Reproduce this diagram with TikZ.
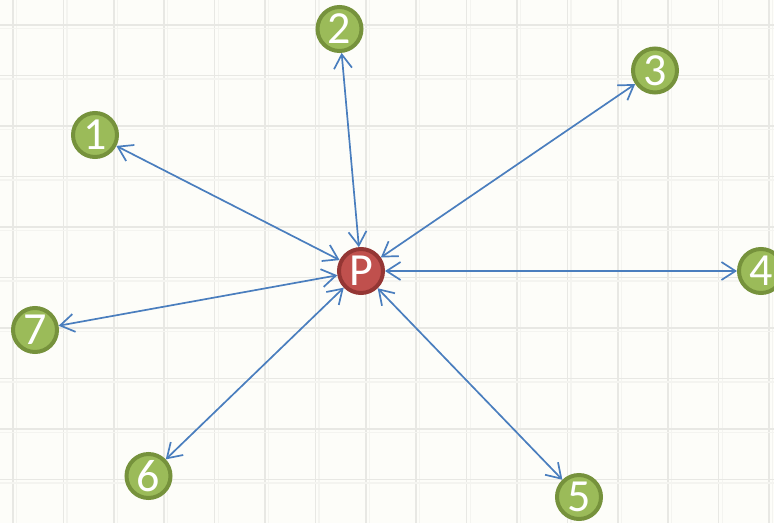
\documentclass[tikz,border=0pt]{standalone}
\usepackage{fontspec}
\setmainfont{Carlito}
\usetikzlibrary{arrows.meta}
\definecolor{bgc}{RGB}{253,253,249}
\definecolor{gridc}{RGB}{232,232,228}
\definecolor{gridf}{RGB}{244,244,240}
\definecolor{gfill}{RGB}{155,187,89}
\definecolor{gdraw}{RGB}{118,146,60}
\definecolor{rfill}{RGB}{192,80,77}
\definecolor{rdraw}{RGB}{148,54,52}
\definecolor{linkc}{RGB}{74,126,190}
\tikzset{
  greennode/.style={circle, minimum size=44pt, inner sep=0pt, line width=4pt,
    draw=gdraw, fill=gfill, text=white, font=\fontsize{46}{46}\selectfont},
  rednode/.style={circle, minimum size=44pt, inner sep=0pt, line width=4pt,
    draw=rdraw, fill=rfill, text=white, font=\fontsize{46}{46}\selectfont},
  link/.style={draw=linkc, line width=1.7pt,
    {Straight Barb[length=14pt,width=18pt,line width=1.7pt]}-{Straight Barb[length=14pt,width=18pt,line width=1.7pt]}},
}
\begin{document}
\begin{tikzpicture}[x=1pt,y=-1pt]
\useasboundingbox (0,0) rectangle (774,523);
\fill[bgc] (0,0) rectangle (774,523);
\foreach \i in {0,...,15} {
  \draw[gridf, line width=1.2pt] ({16.5+50.4*\i},0) -- ({16.5+50.4*\i},523);
  \draw[gridc, line width=1.6pt] ({13+50.4*\i},0) -- ({13+50.4*\i},523);
}
\foreach \j in {0,...,10} {
  \draw[gridf, line width=1.2pt] (0,{28.5+50.5*\j}) -- (774,{28.5+50.5*\j});
  \draw[gridc, line width=1.6pt] (0,{25+50.5*\j}) -- (774,{25+50.5*\j});
}
\node[rednode] (P) at (361,271) {P};
\node[greennode] (n1) at (95,135) {1};
\node[greennode] (n2) at (339.5,29) {2};
\node[greennode] (n3) at (655,70.5) {3};
\node[greennode] (n4) at (761,271) {4};
\node[greennode] (n5) at (579,497) {5};
\node[greennode] (n6) at (148.5,476) {6};
\node[greennode] (n7) at (35,330) {7};
\foreach \n in {n1,n2,n3,n4,n5,n6,n7} {
  \draw[link] (P) -- (\n);
}
\end{tikzpicture}
\end{document}
